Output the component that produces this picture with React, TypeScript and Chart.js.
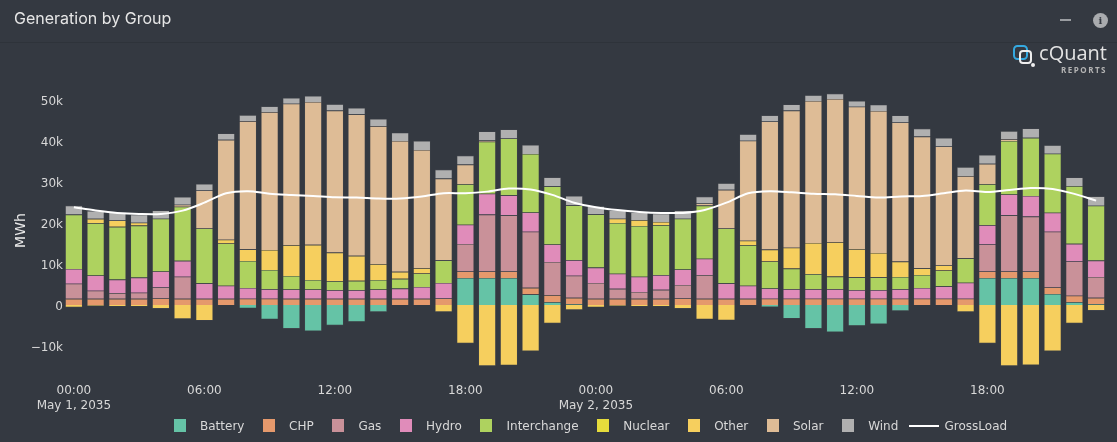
import React, { useEffect, useRef } from "react";
import { Chart, registerables } from "chart.js";

Chart.register(...registerables);

const hours = ["00:00","01:00","02:00","03:00","04:00","05:00","06:00","07:00","08:00","09:00","10:00","11:00","12:00","13:00","14:00","15:00","16:00","17:00","18:00","19:00","20:00","21:00","22:00","23:00"];
const categories = [...hours, ...hours];
const dateLabels: Record<number, string> = { 0: "May 1, 2035", 24: "May 2, 2035" };
const yTickValues = [-10000, 0, 10000, 20000, 30000, 40000, 50000];

const battery = [0,0,0,0,0,0,0,0,-0.8,-3.5,-5.8,-6.4,-5.0,-4.1,-1.7,0,0,0,6.6,6.6,6.6,2.6,0.7,0.2,
  0,0,0,0,0,0,0,0,-0.5,-3.3,-5.8,-6.6,-5.1,-4.65,-1.45,0,0,0,6.6,6.6,6.6,2.7,0.7,0.2];
const chp = [1.5,1.5,1.5,1.5,1.6,1.5,1.5,1.5,1.55,1.55,1.5,1.5,1.5,1.5,1.5,1.5,1.5,1.6,1.6,1.6,1.6,1.6,1.7,1.55,
  1.5,1.5,1.5,1.5,1.6,1.5,1.5,1.5,1.55,1.55,1.55,1.55,1.55,1.55,1.55,1.55,1.55,1.55,1.6,1.6,1.6,1.6,1.55,1.55];
const gas = [3.7,2.0,1.4,1.5,2.7,5.4,0,0,0,0,0,0,0,0,0,0,0,0,6.7,13.9,13.7,13.7,8.1,5.4,
  3.9,2.45,1.7,2.2,3.3,5.8,0,0,0,0,0,0,0,0,0,0,0,0,6.6,13.7,13.4,13.6,8.4,5.1];
const hydro = [3.6,3.7,3.3,3.7,3.9,3.9,3.8,3.2,2.6,2.3,2.3,2.3,2.1,2.1,2.3,2.5,2.9,3.8,4.7,5.1,4.9,4.7,4.3,3.8,
  3.75,3.7,3.7,3.6,3.8,4.0,3.8,3.2,2.5,2.3,2.3,2.3,2.1,2.1,2.3,2.6,3.0,3.9,4.7,5.1,5.05,4.65,4.3,4.0];
const interchange = [13.3,12.8,12.9,12.7,12.9,13.2,13.4,10.35,6.6,4.7,3.3,2.3,2.2,2.3,2.3,2.4,3.3,5.5,9.9,12.7,13.9,14.3,14.2,13.4,
  13.0,12.4,12.4,12.2,12.4,13.0,13.4,9.9,6.6,5.05,3.7,3.1,3.1,3.1,3.0,3.2,3.9,5.95,10.0,13.1,14.2,14.4,14.1,13.4];
const nuclear = Array<number>(48).fill(0);
const other = [0,1.06,1.55,0.7,0,0,0,0.9,2.85,4.9,7.5,8.6,7.0,6.1,3.9,1.7,1.3,0,0,0,0,0,0,0,
  0,1.05,1.45,0.8,0,0,0,1.1,2.9,5.1,7.6,8.4,6.9,5.95,3.75,1.6,1.2,0,0,0,0,0,0,0];
const otherNegative = [-0.6,-0.25,-0.4,-0.4,-0.9,-3.4,-3.8,0,0,0,0,0,0,0,0,0,0,-1.7,-9.4,-14.9,-14.75,-11.25,-4.5,-1.2,
  -0.55,-0.25,-0.4,-0.4,-0.9,-3.5,-3.75,0,0,0,0,0,0,0,0,0,0,-1.7,-9.4,-14.9,-14.7,-11.25,-4.5,-1.4];
const solar = [0,0,0,0,0,0.5,9.3,24.4,31.3,33.7,34.6,34.9,34.7,34.6,33.7,32.0,28.9,20.0,4.8,0.3,0,0,0,0,
  0,0,0,0,0,0.5,9.45,24.45,31.3,33.5,34.7,35.0,34.8,34.7,34.0,32.2,29.1,20.1,5.0,0.4,0,0,0,0];
const wind = [2.2,1.9,2.0,2.0,2.0,1.9,1.6,1.55,1.5,1.4,1.4,1.5,1.55,1.55,1.8,2.0,2.2,2.2,2.2,2.2,2.2,2.2,2.2,2.3,
  2.0,2.0,1.9,2.0,2.0,1.7,1.6,1.6,1.5,1.5,1.4,1.3,1.45,1.55,1.7,1.95,2.1,2.2,2.2,2.0,2.3,2.1,2.1,2.3];
const grossLoad = [23.9,23.1,22.5,22.25,22.25,23.05,25,27.3,27.8,27.2,26.9,26.65,26.3,26.25,26,26,26.5,27.3,27.3,27.7,28.45,28.2,26.9,25,
  23.9,23.2,22.75,22.5,22.5,23.2,25,27.3,27.8,27.55,27.2,27.05,26.65,26.25,26.5,26.65,27.3,27.95,27.6,28.1,28.6,28.35,27.15,25.5];

const colors: Record<string, string> = {
  Battery: "#65c3a6",
  CHP: "#e5996c",
  Gas: "#c99199",
  Hydro: "#e08cba",
  Interchange: "#aed25f",
  Nuclear: "#e6dc3c",
  Other: "#f6cf5e",
  Solar: "#debc96",
  Wind: "#b0b0b0",
};
const legendNames = ["Battery", "CHP", "Gas", "Hydro", "Interchange", "Nuclear", "Other", "Solar", "Wind"];
const BG = "#343941";
const FONT = "'DejaVu Sans', Verdana, sans-serif";

function toMWh(values: number[]) {
  return values.map((v) => v * 1000);
}

function barSet(label: string, values: number[], color: string) {
  return {
    type: "bar" as const,
    label,
    data: toMWh(values),
    backgroundColor: color,
    borderColor: "rgba(120,120,120,0.3)",
    borderWidth: 0.6,
    stack: "gen",
    order: 2,
    barPercentage: 0.8,
    categoryPercentage: 1,
  };
}

export default function App() {
  const ref = useRef<HTMLCanvasElement>(null);

  useEffect(() => {
    document.body.style.margin = "0";
    document.body.style.background = BG;
    const chart = new Chart(ref.current!, {
      type: "bar",
      data: {
        labels: categories,
        datasets: [
          barSet("Battery", battery, colors.Battery),
          barSet("CHP", chp, colors.CHP),
          barSet("Gas", gas, colors.Gas),
          barSet("Hydro", hydro, colors.Hydro),
          barSet("Interchange", interchange, colors.Interchange),
          barSet("Nuclear", nuclear, colors.Nuclear),
          barSet("Other", other, colors.Other),
          barSet("Other (negative)", otherNegative, colors.Other),
          barSet("Solar", solar, colors.Solar),
          barSet("Wind", wind, colors.Wind),
          {
            type: "line" as const,
            label: "GrossLoad",
            data: toMWh(grossLoad),
            borderColor: "#ffffff",
            borderWidth: 2,
            pointRadius: 0,
            tension: 0.3,
            stack: "load",
            order: 1,
          },
        ] as any,
      },
      options: {
        responsive: false,
        animation: false,
        layout: { padding: { top: 93, bottom: 24, left: 0, right: 10 } },
        plugins: { legend: { display: false }, tooltip: { enabled: false } },
        scales: {
          x: {
            stacked: true,
            grid: { display: false, drawTicks: false },
            border: { display: false },
            afterFit: (s: any) => {
              s.height = 50;
            },
            ticks: {
              autoSkip: false,
              maxRotation: 0,
              minRotation: 0,
              padding: 16,
              color: "#d8d8d8",
              font: { family: FONT, size: 12 },
              callback: (_v: any, i: number) => {
                if (i % 6 !== 0) return "";
                return dateLabels[i] ? [categories[i], dateLabels[i]] : categories[i];
              },
            },
          },
          y: {
            stacked: true,
            min: -15400,
            max: 51800,
            grid: { display: false, drawTicks: false },
            border: { display: false },
            afterBuildTicks: (s: any) => {
              s.ticks = yTickValues.map((value) => ({ value }));
            },
            afterFit: (s: any) => {
              s.width = 63;
            },
            title: {
              display: true,
              text: "MWh",
              color: "#e8e8e8",
              font: { family: FONT, size: 14 },
              padding: { top: 13, bottom: 0 },
            },
            ticks: {
              padding: 0,
              labelOffset: 1.5,
              color: "#d8d8d8",
              font: { family: FONT, size: 12 },
              callback: (v: any) => {
                const n = Number(v);
                if (n === 0) return "0";
                return (n < 0 ? "\u2212" : "") + Math.abs(n) / 1000 + "k";
              },
            },
          },
        },
      },
    });
    return () => chart.destroy();
  }, []);

  return (
    <div style={{ position: "absolute", left: 0, top: 0, width: 1117, height: 442, background: BG, overflow: "hidden" }}>
      <canvas ref={ref} width={1117} height={442} style={{ position: "absolute", left: 0, top: 0, width: 1117, height: 442 }} />
      <div style={{ position: "absolute", left: 0, top: 0, width: 1117, height: 42, borderBottom: "1px solid #2e333a" }} />
      <div style={{ position: "absolute", left: 14, top: 8, color: "#e6e6e6", font: "16px Inter, sans-serif" }}>
        Generation by Group
      </div>
      <div style={{ position: "absolute", left: 1060, top: 19, width: 11, height: 2, background: "#9a9da1" }} />
      <div
        style={{
          position: "absolute", left: 1093, top: 13, width: 15, height: 15, borderRadius: 8, background: "#a9abae",
          color: BG, font: "bold 10px 'DejaVu Serif', serif", textAlign: "center", lineHeight: "15px",
        }}
      >
        i
      </div>
      <svg style={{ position: "absolute", left: 1012, top: 44 }} width={26} height={26} viewBox="0 0 26 26">
        <rect x="2" y="2" width="13" height="13" rx="3.5" fill="none" stroke="#35a9e0" strokeWidth="2" />
        <rect x="8" y="7" width="11" height="12" rx="3" fill="none" stroke="#eeeeee" strokeWidth="2" />
        <circle cx="21" cy="21" r="2" fill="#eeeeee" />
      </svg>
      <div style={{ position: "absolute", right: 10, top: 39, color: "#e4e4e4", font: "20px 'Open Sans', sans-serif" }}>cQuant</div>
      <div style={{ position: "absolute", right: 10, top: 64, color: "#b4b4b4", font: "bold 8px 'Open Sans', sans-serif", letterSpacing: 1.5 }}>
        REPORTS
      </div>
      <div style={{ position: "absolute", left: 174, top: 417, height: 17, display: "flex", alignItems: "center", color: "#d8d8d8", font: `12px ${FONT}`, whiteSpace: "nowrap" }}>
        {legendNames.map((name) => (
          <span key={name} style={{ display: "flex", alignItems: "center", marginRight: 18.7 }}>
            <span style={{ width: 12, height: 13, background: colors[name], marginRight: 14, display: "inline-block" }} />
            {name}
          </span>
        ))}
        <span style={{ display: "flex", alignItems: "center", marginLeft: -8.5 }}>
          <span style={{ width: 30, height: 2, background: "#ffffff", marginRight: 6, display: "inline-block" }} />
          GrossLoad
        </span>
      </div>
    </div>
  );
}
